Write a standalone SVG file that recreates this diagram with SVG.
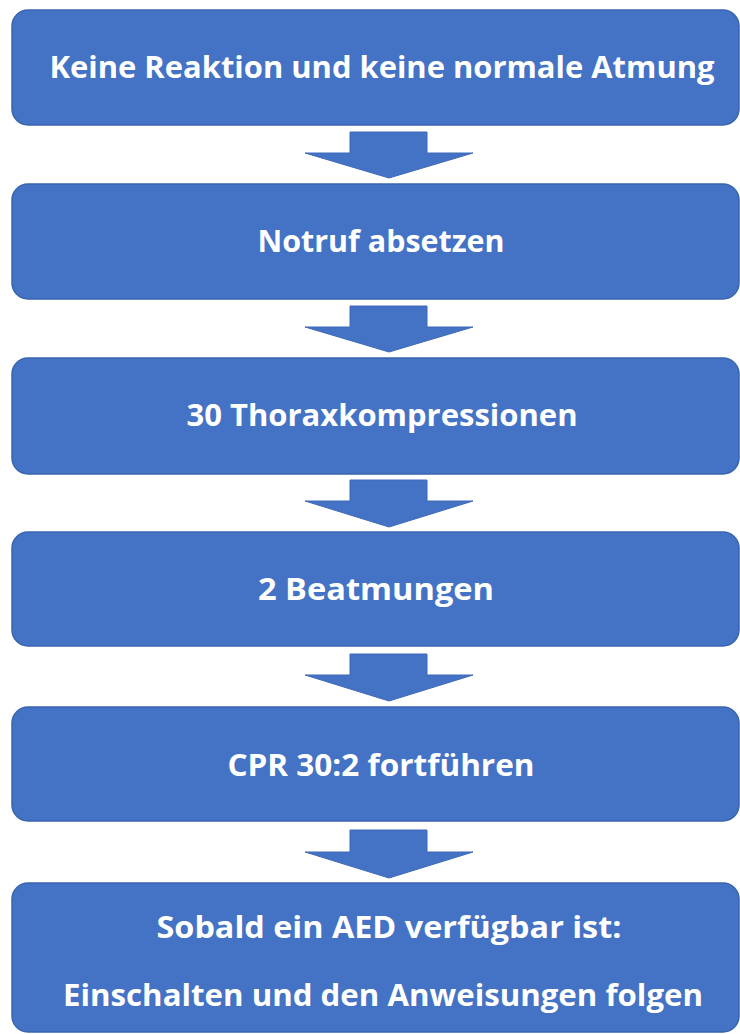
<svg xmlns="http://www.w3.org/2000/svg" width="740" height="1034" viewBox="0 0 740 1034">
<style>
.box{fill:#4472C4;stroke:#3A64AE;stroke-width:1.5}
.arr{fill:#4472C4;stroke:#3F69B8;stroke-width:1}
.t{font-family:"Open Sans","Liberation Sans",sans-serif;font-weight:bold;font-size:31px;fill:#FFFFFF;text-anchor:middle}
</style>
<rect width="740" height="1034" fill="#FFFFFF"/>
<g id="connectors">
<polygon class="arr" points="350,132 427,132 427,153 473,153 389,178 305,153 350,153"/>
<polygon class="arr" points="350,306 427,306 427,327 473,327 389,352 305,327 350,327"/>
<polygon class="arr" points="350,480 427,480 427,501 473,501 389,527 305,501 350,501"/>
<polygon class="arr" points="350,654 427,654 427,675 473,675 389,701 305,675 350,675"/>
<polygon class="arr" points="350,830 427,830 427,852 473,852 389,878 305,852 350,852"/>
</g>
<g id="n1"><rect class="box" x="12" y="10" width="727" height="115" rx="16"/><text class="t" x="382" y="78" textLength="665" lengthAdjust="spacingAndGlyphs">Keine Reaktion und keine normale Atmung</text></g>
<g id="n2"><rect class="box" x="12" y="184" width="727" height="115" rx="16"/><text class="t" x="381" y="252" textLength="247" lengthAdjust="spacingAndGlyphs">Notruf absetzen</text></g>
<g id="n3"><rect class="box" x="12" y="358" width="727" height="116" rx="16"/><text class="t" x="382" y="426" textLength="391" lengthAdjust="spacingAndGlyphs">30 Thoraxkompressionen</text></g>
<g id="n4"><rect class="box" x="12" y="532" width="727" height="114" rx="16"/><text class="t" x="376" y="600" textLength="236" lengthAdjust="spacingAndGlyphs">2 Beatmungen</text></g>
<g id="n5"><rect class="box" x="12" y="707" width="727" height="114" rx="16"/><text class="t" x="381" y="776" textLength="307" lengthAdjust="spacingAndGlyphs">CPR 30:2 fortführen</text></g>
<g id="n6"><rect class="box" x="12" y="883" width="727" height="149" rx="16"/><text class="t" x="389" y="938" textLength="465" lengthAdjust="spacingAndGlyphs">Sobald ein AED verfügbar ist:</text><text class="t" x="383" y="1006" textLength="640" lengthAdjust="spacingAndGlyphs">Einschalten und den Anweisungen folgen</text></g>
</svg>
